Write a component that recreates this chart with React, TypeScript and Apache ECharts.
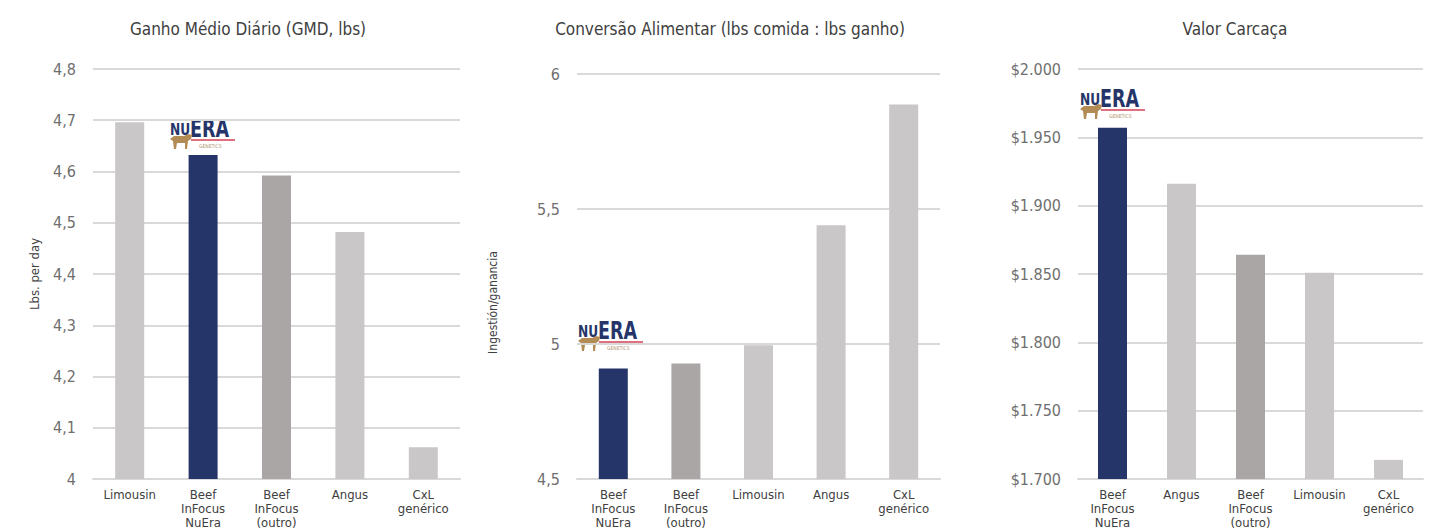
import React, { useEffect, useRef } from "react";
import * as echarts from "echarts";

const titles = ["Ganho Médio Diário (GMD, lbs)", "Conversão Alimentar (lbs comida : lbs ganho)", "Valor Carcaça"];

const cats1 = ["Limousin", "Beef\nInFocus\nNuEra", "Beef\nInFocus\n(outro)", "Angus", "CxL\ngenérico"];
const vals1 = [4.696, 4.632, 4.592, 4.482, 4.062];
const colorKeys1 = ["light", "navy", "mid", "light", "light"];

const cats2 = ["Beef\nInFocus\nNuEra", "Beef\nInFocus\n(outro)", "Limousin", "Angus", "CxL\ngenérico"];
const vals2 = [4.909, 4.928, 4.995, 5.44, 5.887];
const colorKeys2 = ["navy", "mid", "light", "light", "light"];

const cats3 = ["Beef\nInFocus\nNuEra", "Angus", "Beef\nInFocus\n(outro)", "Limousin", "CxL\ngenérico"];
const vals3 = [1957, 1916, 1864, 1851, 1714];
const colorKeys3 = ["navy", "light", "mid", "light", "light"];

const yName1 = "Lbs. per day";
const yName2 = "Ingestión/ganancia";

const COLORS: Record<string, string> = { light: "#c9c7c7", mid: "#a9a6a5", navy: "#253569" };
const FONT = "'DejaVu Sans Condensed', 'Liberation Sans Narrow', Roboto, sans-serif";

function logo(x: number, y: number) {
  return {
    type: "group",
    x,
    y,
    silent: true,
    children: [
      { type: "text", x: 0, y: 3, scaleX: 0.85, style: { text: "NU", fill: "#253569", font: `bold 16px ${FONT}`, verticalAlign: "top" } },
      { type: "text", x: 20, y: -2, scaleX: 0.78, style: { text: "ERA", fill: "#253569", font: `bold 25px ${FONT}`, verticalAlign: "top" } },
      { type: "rect", shape: { x: 21, y: 21, width: 44, height: 2 }, style: { fill: "#e07080" } },
      { type: "text", x: 29, y: 25, style: { text: "GENETICS", fill: "#b39470", font: `5px ${FONT}`, verticalAlign: "top" } },
      {
        type: "polygon",
        shape: {
          points: [[0, 21], [4, 18], [14, 18], [18, 16], [22, 17], [21, 21], [18, 23], [17, 31], [15, 31], [15, 25], [7, 25], [6, 31], [4, 31], [3, 23]],
        },
        style: { fill: "#b38b55" },
      },
    ],
  };
}

export default function App() {
  const ref = useRef<HTMLDivElement>(null);
  useEffect(() => {
    document.body.style.margin = "0";
    const chart = echarts.init(ref.current!, null, { renderer: "svg" });
    const grids = [
      { left: 93, width: 367, top: 69, height: 415 },
      { left: 577, width: 363, top: 74, height: 410 },
      { left: 1078, width: 345, top: 69, height: 415 },
    ];
    const titleX = [243, 725, 1230];
    const fmtNum = (v: number) => (Number.isInteger(Math.round(v * 1000) / 1000) ? String(Math.round(v)) : v.toFixed(1).replace(".", ","));
    const fmtMoney = (v: number) => {
      const s = String(Math.round(v));
      return "$" + s.slice(0, s.length - 3) + "." + s.slice(s.length - 3);
    };
    const yLabel = { color: "#6f6f6f", fontSize: 16, fontFamily: FONT, margin: 17 };
    const xLabel = { color: "#404040", fontSize: 13, fontFamily: FONT, lineHeight: 14, margin: 8, interval: 0 };
    const split = { show: true, lineStyle: { color: "#d9d9d9", width: 2 } };
    const xAxisBase = {
      type: "category",
      axisLine: { show: true, lineStyle: { color: "#d9d9d9", width: 2 } },
      axisTick: { show: false },
      axisLabel: xLabel,
    };
    const mk = (vals: number[], keys: string[], idx: number) => ({
      type: "bar",
      xAxisIndex: idx,
      yAxisIndex: idx,
      barWidth: 29,
      data: vals.map((v, i) => ({ value: v, itemStyle: { color: COLORS[keys[i]] } })),
    });
    chart.setOption({
      animation: false,
      title: titles.map((t, i) => ({
        text: t,
        left: titleX[i],
        top: 15,
        textAlign: "center",
        textStyle: { color: "#404040", fontSize: 17, fontWeight: "normal", fontFamily: FONT },
      })),
      grid: grids,
      xAxis: [
        { ...xAxisBase, gridIndex: 0, data: cats1 },
        { ...xAxisBase, gridIndex: 1, data: cats2 },
        { ...xAxisBase, gridIndex: 2, data: cats3 },
      ],
      yAxis: [
        {
          type: "value", gridIndex: 0, min: 4, max: 4.8, interval: 0.1,
          axisLine: { show: false }, axisTick: { show: false }, splitLine: split,
          axisLabel: { ...yLabel, formatter: fmtNum },
          name: yName1, nameLocation: "middle", nameGap: 52,
          nameTextStyle: { color: "#404040", fontSize: 13, fontFamily: FONT },
        },
        {
          type: "value", gridIndex: 1, min: 4.5, max: 6, interval: 0.5,
          axisLine: { show: false }, axisTick: { show: false }, splitLine: split,
          axisLabel: { ...yLabel, formatter: fmtNum },
          name: yName2, nameLocation: "middle", nameGap: 78,
          nameTextStyle: { color: "#404040", fontSize: 12, fontFamily: FONT, padding: [0, 52, 0, 0] },
        },
        {
          type: "value", gridIndex: 2, min: 1700, max: 2000, interval: 50,
          axisLine: { show: false }, axisTick: { show: false }, splitLine: split,
          axisLabel: { ...yLabel, formatter: fmtMoney },
        },
      ],
      series: [mk(vals1, colorKeys1, 0), mk(vals2, colorKeys2, 1), mk(vals3, colorKeys3, 2)],
      graphic: [logo(170, 118), logo(578, 320), logo(1080, 88)],
    });
    return () => chart.dispose();
  }, []);
  return <div ref={ref} style={{ width: 1439, height: 529 }} />;
}
